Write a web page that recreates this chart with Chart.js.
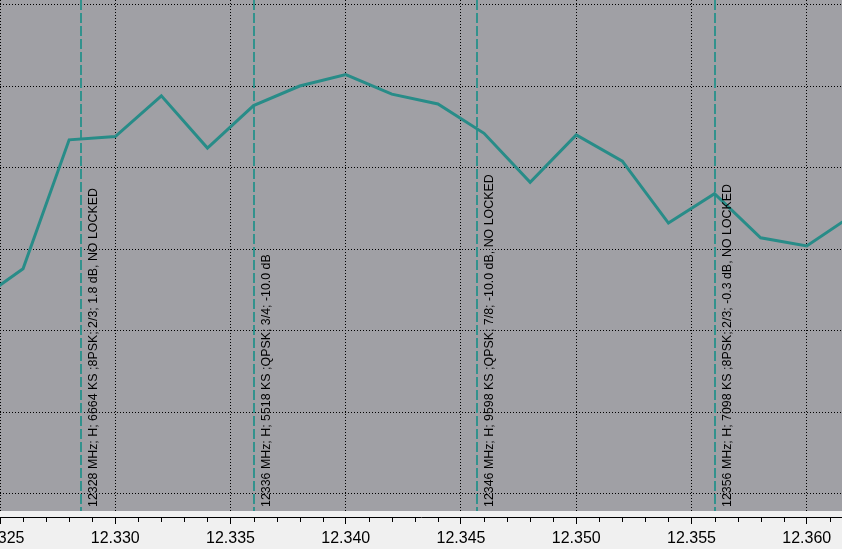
<!DOCTYPE html>
<html>
<head>
<meta charset="utf-8">
<script src="https://cdn.jsdelivr.net/npm/chart.js@4.4.0/dist/chart.umd.min.js"></script>
<style>
  html, body { margin: 0; padding: 0; background: #f0f0f0; }
</style>
</head>
<body>
<canvas id="espectro" width="842" height="549"></canvas>
<script>
const freqs = [12.324, 12.326, 12.328, 12.330, 12.332, 12.334, 12.336, 12.338, 12.340, 12.342,
               12.344, 12.346, 12.348, 12.350, 12.352, 12.354, 12.356, 12.358, 12.360, 12.362];
const levels = [-48.2, -46.2, -38.3, -38.1, -35.6, -38.8, -36.2, -35.0, -34.3, -35.5,
                -36.1, -37.9, -40.9, -38.0, -39.6, -43.4, -41.6, -44.3, -44.8, -42.9];

// etiquetas del eje de frecuencia y líneas horizontales de la rejilla
const majorTicks = [12.325, 12.330, 12.335, 12.340, 12.345, 12.350, 12.355, 12.360];
const levelTicks = [-30, -35, -40, -45, -50, -55, -60];

// transpondedores marcados
const markerFreqs = [12.3285, 12.3360, 12.3457, 12.3560];
const markerLabels = [
  "12328 MHz; H; 6664 KS ;8PSK; 2/3; 1.8 dB, NO LOCKED",
  "12336 MHz; H; 5518 KS ;QPSK; 3/4; -10.0 dB",
  "12346 MHz; H; 9598 KS ;QPSK; 7/8; -10.0 dB, NO LOCKED",
  "12356 MHz; H; 7098 KS ;8PSK; 2/3; -0.3 dB, NO LOCKED"
];

const X_MIN = 12.325, X_MAX = 12.36153;
const Y_MIN = -61.41, Y_MAX = -29.73;
const TEAL = "rgb(40,140,136)";

// marcas menores cada 1 kHz
const allTicks = [];
for (let i = 0; i <= 36; i++) allTicks.push(+(12.325 + i * 0.001).toFixed(3));

function esMayor(v) {
  return majorTicks.some(m => Math.abs(m - v) < 1e-7);
}

// fondo gris del área de trazado, con la franja clara encima del eje
const fondo = {
  id: "fondo",
  beforeDraw(chart) {
    const { ctx, chartArea: a } = chart;
    ctx.save();
    ctx.fillStyle = "#f0f0f0";
    ctx.fillRect(0, 0, chart.width, chart.height);
    ctx.fillStyle = "#a0a0a5";
    ctx.fillRect(a.left, a.top, a.right - a.left, a.bottom - 6 - a.top);
    ctx.restore();
  },
  afterDatasetsDraw(chart) {
    const { ctx, chartArea: a } = chart;
    ctx.save();
    ctx.fillStyle = "#f0f0f0";
    ctx.fillRect(a.left, a.bottom - 6, a.right - a.left, 6);
    ctx.restore();
  }
};

// líneas discontinuas de los transpondedores y su texto vertical
const marcadores = {
  id: "marcadores",
  beforeDatasetsDraw(chart) {
    const { ctx, chartArea: a, scales: { x } } = chart;
    ctx.save();
    ctx.strokeStyle = "rgb(50,146,141)";
    ctx.lineWidth = 2;
    ctx.setLineDash([10, 3]);
    markerFreqs.forEach(f => {
      const px = Math.round(x.getPixelForValue(f));
      ctx.beginPath();
      ctx.moveTo(px, a.top);
      ctx.lineTo(px, a.bottom - 6);
      ctx.stroke();
    });
    ctx.restore();
  },
  afterDatasetsDraw(chart) {
    const { ctx, chartArea: a, scales: { x } } = chart;
    ctx.save();
    ctx.fillStyle = "#000";
    ctx.font = '12.4px "Liberation Sans"';
    ctx.textBaseline = "alphabetic";
    markerFreqs.forEach((f, i) => {
      const px = Math.round(x.getPixelForValue(f));
      ctx.save();
      ctx.translate(px + 15.5, a.bottom - 10);
      ctx.rotate(-Math.PI / 2);
      ctx.fillText(markerLabels[i], 0, 0);
      ctx.restore();
    });
    ctx.restore();
  },
  afterDraw(chart) {
    // marcas cortas de las divisiones menores
    const { ctx, scales: { x } } = chart;
    ctx.save();
    ctx.strokeStyle = "#000";
    ctx.lineWidth = 1;
    ctx.beginPath();
    x.ticks.forEach(t => {
      if (esMayor(t.value)) return;
      const px = Math.round(x.getPixelForValue(t.value)) + 0.5;
      ctx.moveTo(px, x.top);
      ctx.lineTo(px, x.top + 5);
    });
    ctx.stroke();
    ctx.restore();
  }
};

new Chart(document.getElementById("espectro"), {
  type: "line",
  data: {
    datasets: [{
      data: freqs.map((f, i) => ({ x: f, y: levels[i] })),
      borderColor: TEAL,
      borderWidth: 3,
      pointRadius: 0,
      tension: 0,
      fill: false
    }]
  },
  options: {
    responsive: false,
    animation: false,
    layout: { padding: 0 },
    plugins: {
      legend: { display: false },
      tooltip: { enabled: false }
    },
    scales: {
      x: {
        type: "linear",
        min: X_MIN,
        max: X_MAX,
        afterBuildTicks: s => { s.ticks = allTicks.map(v => ({ value: v })); },
        afterFit: s => { s.height = 32; s.paddingLeft = 0; s.paddingRight = 0; },
        ticks: {
          autoSkip: false,
          maxRotation: 0,
          padding: 5,
          color: "#000",
          font: { family: "Liberation Sans", size: 16 },
          callback: v => esMayor(v) ? v.toFixed(3) : ""
        },
        grid: {
          color: c => (c.tick && esMayor(c.tick.value)) ? "#000" : "rgba(0,0,0,0)",
          tickColor: c => (c.tick && esMayor(c.tick.value)) ? "#000" : "rgba(0,0,0,0)",
          tickLength: 7,
          lineWidth: 1
        },
        border: { display: true, color: "#000", width: 1, dash: [1, 2] }
      },
      y: {
        min: Y_MIN,
        max: Y_MAX,
        afterBuildTicks: s => { s.ticks = levelTicks.map(v => ({ value: v })); },
        afterFit: s => { s.width = 0; },
        ticks: { display: false },
        grid: { color: "#000", drawTicks: false, lineWidth: 1 },
        border: { display: false, dash: [1, 2] }
      }
    }
  },
  plugins: [fondo, marcadores]
});
</script>
</body>
</html>
